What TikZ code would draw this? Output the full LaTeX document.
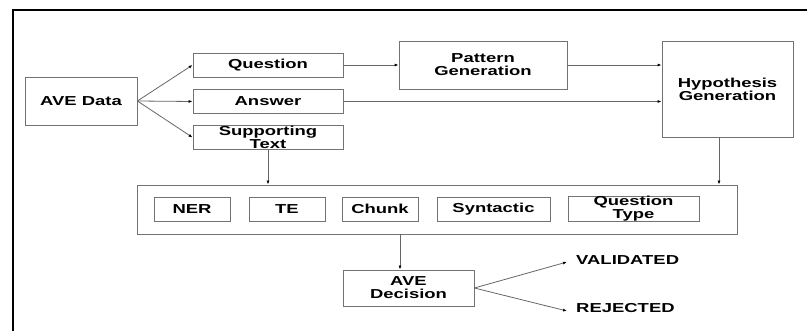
\documentclass[tikz,border=0pt]{standalone}
\usepackage{fontspec}
\setmainfont{Liberation Sans}[FakeStretch=1.42]
\usetikzlibrary{arrows.meta}
\begin{document}
\begin{tikzpicture}[x=1pt,y=-1pt,
  every node/.style={font=\bfseries\fontsize{13}{13}\selectfont, align=center, inner sep=0pt},
  box/.style={draw=black!55, line width=0.8pt, fill=white},
  link/.style={draw=black!60, line width=0.8pt, -{Latex[length=4pt,width=3pt,black]}}]
  \useasboundingbox (0,0) rectangle (807,331);
  % outer frame
  \draw[line width=2.2pt] (13,331) -- (13,10) -- (807,10);
  % input boxes
  \node[box, minimum width=112pt, minimum height=48pt] (ave) at (81,101) {AVE Data};
  \node[box, minimum width=150pt, minimum height=24pt] (q) at (268,65) {Question};
  \node[box, minimum width=150pt, minimum height=24pt] (a) at (268,101.5) {Answer};
  \node[box, minimum width=150pt, minimum height=24pt] (st) at (268,137.5) {Supporting\\Text};
  \node[box, minimum width=168pt, minimum height=48pt] (pg) at (483,65) {Pattern\\Generation};
  \node[box, minimum width=131pt, minimum height=96pt] (hg) at (727.5,89) {Hypothesis\\Generation};
  % feature container
  \node[box, minimum width=600pt, minimum height=49pt] (feat) at (437,209.5) {};
  \node[box, minimum width=76pt, minimum height=24pt] (ner) at (192,209) {NER};
  \node[box, minimum width=76pt, minimum height=24pt] (te) at (287,209) {TE};
  \node[box, minimum width=76pt, minimum height=24pt] (ch) at (380,209) {Chunk};
  \node[box, minimum width=113pt, minimum height=24pt] (syn) at (493.5,209) {Syntactic};
  \node[box, minimum width=131pt, minimum height=24pt] (qt) at (633.5,209) {Question\\Type};
  % decision
  \node[box, minimum width=131pt, minimum height=36pt] (dec) at (408.5,288) {AVE\\Decision};
  \node[anchor=west] (val) at (576,260) {VALIDATED};
  \node[anchor=west] (rej) at (576,308) {REJECTED};
  % connectors
  \draw[link] (ave.east) -- (q.west);
  \draw[link] (ave.east) -- (a.west);
  \draw[link] (ave.east) -- (st.west);
  \draw[link] (q.east) -- (pg.west |- q.east);
  \draw[link] (pg.east) -- (hg.west |- pg.east);
  \draw[link] (a.east) -- (hg.west |- a.east);
  \draw[link] (st.south) -- (st.south |- feat.north);
  \draw[link] (hg.south -| 719,0) -- (719,0 |- feat.north);
  \draw[link] (feat.south -| 400,0) -- (400,0 |- dec.north);
  \draw[link] (dec.east) -- ([xshift=-9pt,yshift=-2pt]val.west);
  \draw[link] (dec.east) -- ([xshift=-9pt,yshift=-3pt]rej.west);
\end{tikzpicture}
\end{document}
